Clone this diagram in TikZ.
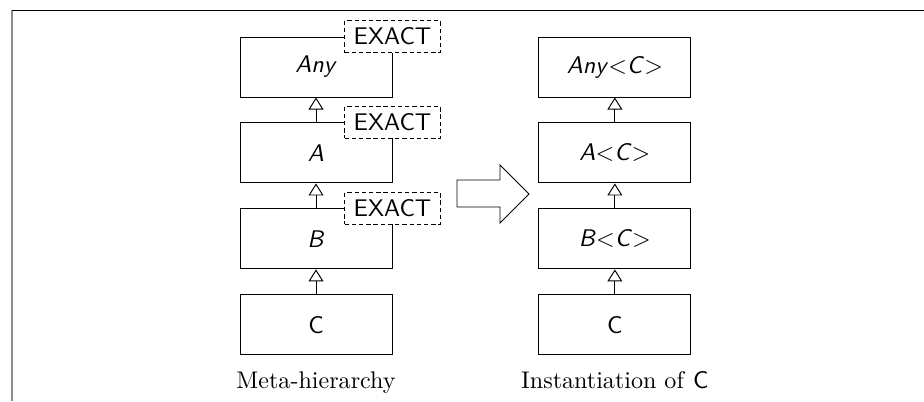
\documentclass[tikz,border=0pt]{standalone}
\usetikzlibrary{arrows.meta,positioning}
\tikzset{
  cls/.style     = {rectangle, draw, fill=white, minimum width=2.22cm,
                    minimum height=0.876cm, font=\sffamily},
  exact/.style   = {rectangle, draw, dash pattern=on 1.8pt off 1.2pt,
                    fill=white, minimum width=1.40cm, minimum height=0.467cm,
                    inner sep=1pt, font=\sffamily},
  inh/.style     = {-{Triangle[open,length=5pt,width=6.2pt]}},
  caption/.style = {font=\rmfamily, text height=6.94pt, text depth=1.94pt},
}

\begin{document}
\begin{tikzpicture}[x=0.0146cm, y=-0.0146cm, node distance=0.365cm]
\useasboundingbox (0,0) rectangle (924,401);

%% frame
\draw[black!45, line width=0.8pt] (12,401) -- (12,10);
\draw (12,10) -- (924,10);

%% meta-hierarchy
\node[cls] (any) at (316,67) {\textit{Any}};
\node[cls, below=of any] (a) {\textit{A}};
\node[cls, below=of a]   (b) {\textit{B}};
\node[cls, below=of b]   (c) {C};
\foreach \n in {any,a,b}
  \node[exact] (x\n) at (\n.north east) {EXACT};

%% instantiation
\node[cls, right=2.13cm of any] (anyc) {\textit{Any}$<$\textit{C}$>$};
\node[cls, below=of anyc] (ac) {\textit{A}$<$\textit{C}$>$};
\node[cls, below=of ac]   (bc) {\textit{B}$<$\textit{C}$>$};
\node[cls, below=of bc]   (cc) {C};

%% inheritance
\draw[inh] (a) -- (any);
\draw[inh] (b) -- (a);
\draw[inh] (c) -- (b);
\draw[inh] (ac) -- (anyc);
\draw[inh] (bc) -- (ac);
\draw[inh] (cc) -- (bc);

%% big arrow
\draw (457,180) -- (500,180) -- (500,165) -- (529,194) -- (500,223)
      -- (500,207) -- (457,207) -- cycle;

%% captions
\node[caption, below=0.11cm of c]  (metacap) {Meta-hierarchy};
\node[caption, below=0.11cm of cc] (instcap) {Instantiation of \textsf{C}};

\end{tikzpicture}
\end{document}
